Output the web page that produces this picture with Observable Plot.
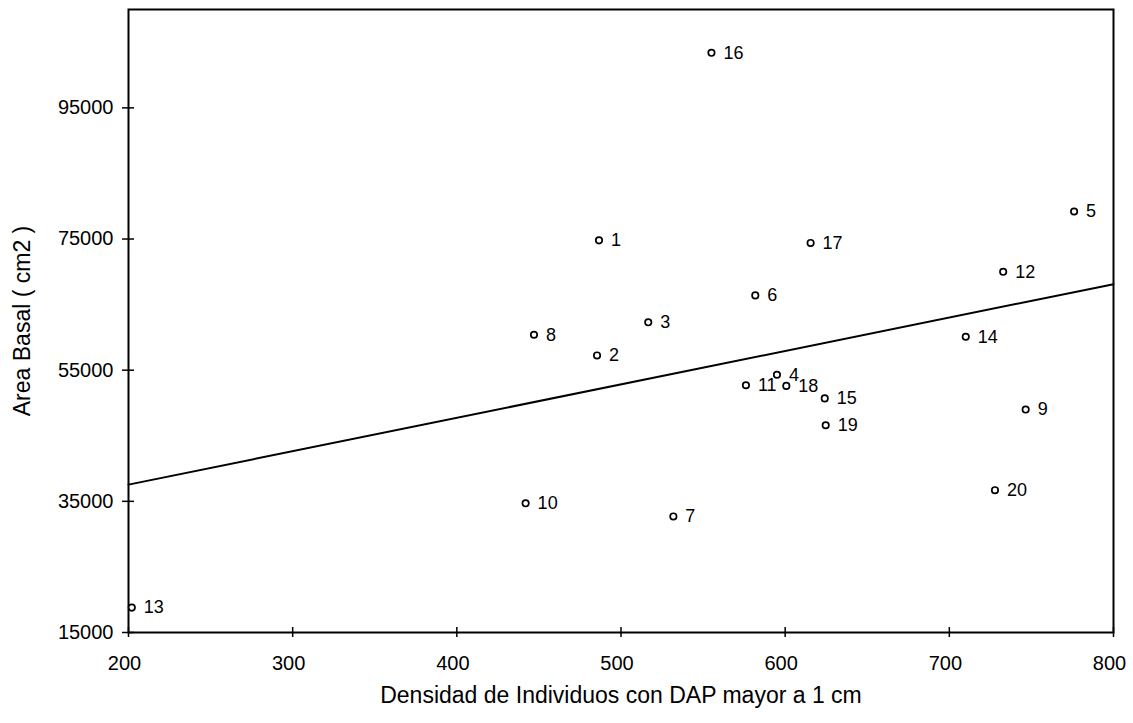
<!DOCTYPE html>
<html>
<head>
<meta charset="utf-8">
<script src="https://cdn.jsdelivr.net/npm/d3@7"></script>
<script src="https://cdn.jsdelivr.net/npm/@observablehq/plot@0.6"></script>
<style>
  html, body { margin: 0; padding: 0; background: #fff; }
  #chart svg { display: block; }
</style>
</head>
<body>
<div id="chart"></div>
<script>
// ---- data ----
const plotIds  = ["1","2","3","4","5","6","7","8","9","10","11","12","13","14","15","16","17","18","19","20"];
const densidad = [486.6, 485.4, 516.6, 595, 776, 581.8, 531.9, 447, 746.5, 441.9, 576.1, 732.8, 202, 710, 624.1, 555.1, 615.5, 600.7, 624.7, 727.8];
const areaBasal = [74800, 57250, 62300, 54300, 79200, 66400, 32700, 60400, 49000, 34700, 52700, 70000, 18800, 60100, 50700, 103400, 74400, 52600, 46600, 36700];

const xTicks = [200, 300, 400, 500, 600, 700, 800];
const yTicks = [15000, 35000, 55000, 75000, 95000];
const xDomain = [200, 800];
const yDomain = [15000, 110000];

const xTitle = "Densidad de Individuos con DAP mayor a 1 cm";
const yTitle = "Area Basal ( cm2 )";

// table for the library
const rows = plotIds.map((id, i) => ({id, x: densidad[i], y: areaBasal[i]}));

// least-squares fit drawn across the whole x domain
const mx = d3.mean(densidad), my = d3.mean(areaBasal);
const slope = d3.sum(rows, d => (d.x - mx) * (d.y - my)) / d3.sum(rows, d => (d.x - mx) ** 2);
const intercept = my - slope * mx;
const fitLine = xDomain.map(x => ({x, y: intercept + slope * x}));

const font = "'Liberation Sans', Arial, Helvetica, sans-serif";

const chart = Plot.plot({
  width: 1133,
  height: 723,
  marginTop: 9,
  marginRight: 20,
  marginBottom: 91,
  marginLeft: 128,
  style: {fontFamily: font, background: "#fff", color: "#000"},
  x: {domain: xDomain, ticks: xTicks},
  y: {domain: yDomain, ticks: yTicks},
  marks: [
    Plot.frame({stroke: "#000", strokeWidth: 2}),
    // tick marks crossing the axes
    Plot.axisY({ticks: yTicks, tickSize: 12, dx: 6, strokeWidth: 1.5, stroke: "#000", tickFormat: () => "", label: null}),
    Plot.axisY({ticks: yTicks, tickSize: 0, tickPadding: 15, fontSize: 20, fill: "#000", tickFormat: d => String(d), label: null}),
    Plot.axisX({ticks: xTicks, tickSize: 10, dy: -5, strokeWidth: 1.5, stroke: "#000", tickFormat: () => "", label: null}),
    Plot.axisX({ticks: xTicks, tickSize: 0, tickPadding: 23, dx: -4, fontSize: 20, fill: "#000", tickFormat: d => String(d), label: null}),
    Plot.line(fitLine, {x: "x", y: "y", stroke: "#000", strokeWidth: 2}),
    Plot.dot(rows, {x: "x", y: "y", r: 3.2, stroke: "#000", strokeWidth: 1.7, fill: "#fff"}),
    Plot.text(rows, {x: "x", y: "y", text: "id", dx: 12, textAnchor: "start", fontSize: 18, fill: "#000"}),
    Plot.text([xTitle], {frameAnchor: "bottom", dy: 63, fontSize: 23, fill: "#000", lineAnchor: "middle", textAnchor: "middle"}),
    Plot.text([yTitle], {frameAnchor: "left", dx: -106, rotate: -90, fontSize: 23, fill: "#000", lineAnchor: "middle", textAnchor: "middle"})
  ]
});
document.getElementById("chart").appendChild(chart);
</script>
</body>
</html>
